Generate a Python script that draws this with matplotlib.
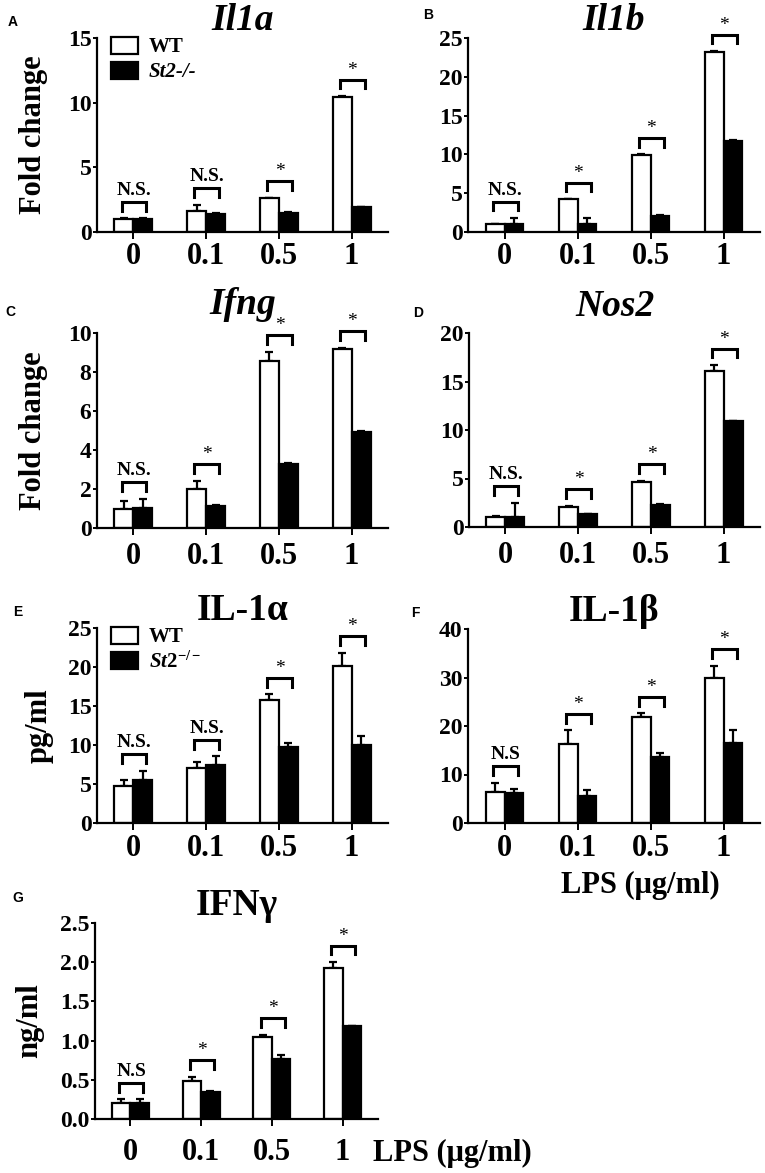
import numpy as np
import matplotlib
matplotlib.use("Agg")
import matplotlib.pyplot as plt
from matplotlib.patches import Patch

plt.rcParams['font.family'] = ['Liberation Serif', 'DejaVu Serif']
plt.rcParams['font.weight'] = 'bold'
plt.rcParams['mathtext.fontset'] = 'custom'
plt.rcParams['mathtext.it'] = 'Liberation Serif:italic:bold'
plt.rcParams['mathtext.rm'] = 'Liberation Serif:bold'

# LPS doses (ug/ml)
doses = ['0', '0.1', '0.5', '1']

# A  Il1a fold change
il1a_wt = [1.0, 1.65, 2.6, 10.4]
il1a_wt_err = [0.05, 0.45, 0.05, 0.1]
il1a_ko = [1.0, 1.4, 1.5, 1.9]
il1a_ko_err = [0.05, 0.05, 0.05, 0.05]
il1a_sig = ['N.S.', 'N.S.', '*', '*']

# B  Il1b fold change
il1b_wt = [1.0, 4.2, 9.9, 23.2]
il1b_wt_err = [0.05, 0.05, 0.1, 0.1]
il1b_ko = [1.05, 1.05, 2.1, 11.7]
il1b_ko_err = [0.75, 0.75, 0.1, 0.1]
il1b_sig = ['N.S.', '*', '*', '*']

# C  Ifng fold change
ifng_wt = [1.0, 2.0, 8.55, 9.2]
ifng_wt_err = [0.4, 0.43, 0.5, 0.03]
ifng_ko = [1.05, 1.15, 3.3, 4.9]
ifng_ko_err = [0.45, 0.03, 0.05, 0.05]
ifng_sig = ['N.S.', '*', '*', '*']

# D  Nos2 fold change
nos2_wt = [1.05, 2.1, 4.6, 16.1]
nos2_wt_err = [0.05, 0.1, 0.15, 0.6]
nos2_ko = [1.05, 1.3, 2.3, 10.9]
nos2_ko_err = [1.45, 0.05, 0.05, 0.05]
nos2_sig = ['N.S.', '*', '*', '*']

# E  IL-1a protein (pg/ml)
il1a_p_wt = [4.8, 7.0, 15.8, 20.1]
il1a_p_wt_err = [0.75, 0.8, 0.7, 1.7]
il1a_p_ko = [5.5, 7.5, 9.8, 10.0]
il1a_p_ko_err = [1.2, 1.05, 0.5, 1.2]
il1a_p_sig = ['N.S.', 'N.S.', '*', '*']

# F  IL-1b protein (pg/ml)
il1b_p_wt = [6.3, 16.3, 21.9, 29.8]
il1b_p_wt_err = [2.0, 2.8, 0.7, 2.6]
il1b_p_ko = [6.2, 5.5, 13.7, 16.5]
il1b_p_ko_err = [0.9, 1.4, 0.8, 2.6]
il1b_p_sig = ['N.S', '*', '*', '*']

# G  IFNg protein (ng/ml)
ifng_p_wt = [0.21, 0.49, 1.04, 1.93]
ifng_p_wt_err = [0.04, 0.05, 0.03, 0.07]
ifng_p_ko = [0.21, 0.35, 0.76, 1.18]
ifng_p_ko_err = [0.04, 0.005, 0.06, 0.01]
ifng_p_sig = ['N.S', '*', '*', '*']

W, H = 765, 1173
BW = 0.26


def add_axes(fig, left, top, right, bottom):
    # pixel box -> figure fraction
    return fig.add_axes([left / W, 1 - bottom / H, (right - left) / W, (bottom - top) / H])


def draw_panel(ax, wt, wt_err, ko, ko_err, sig, ymax, ystep, title, title_pad,
               ylabel=None, yfmt='%d', xpad=3, italic=False):
    x = np.arange(len(doses))
    ax.bar(x - BW / 2, wt, BW, color='white', edgecolor='black', linewidth=1.6, zorder=2)
    ax.bar(x + BW / 2, ko, BW, color='black', edgecolor='black', linewidth=1.6, zorder=2)
    ax.errorbar(x - BW / 2, wt, yerr=[np.zeros(len(wt)), wt_err], fmt='none',
                ecolor='black', elinewidth=1.6, capsize=3, capthick=1.6, zorder=1)
    ax.errorbar(x + BW / 2, ko, yerr=[np.zeros(len(ko)), ko_err], fmt='none',
                ecolor='black', elinewidth=1.6, capsize=3, capthick=1.6, zorder=1)

    # significance brackets
    for i in range(len(doses)):
        top = max(wt[i] + wt_err[i], ko[i] + ko_err[i])
        yb = top + 0.085 * ymax
        leg = 0.045 * ymax
        x1, x2 = i - 0.16, i + 0.18
        ax.plot([x1, x1, x2, x2], [yb - leg, yb, yb, yb - leg], color='black',
                linewidth=2.2, solid_joinstyle='miter', clip_on=False)
        if sig[i] == '*':
            ax.text(i + 0.01, yb + 0.005 * ymax, '*', ha='center', va='bottom',
                    fontsize=14, fontweight='normal')
        else:
            ax.text(i + 0.01, yb + 0.015 * ymax, sig[i], ha='center', va='bottom',
                    fontsize=14)

    ax.set_xlim(-0.5, len(doses) - 0.5)
    ax.set_ylim(0, ymax)
    ax.set_yticks(np.arange(0, ymax + ystep / 2, ystep))
    ax.set_yticklabels([yfmt % v for v in np.arange(0, ymax + ystep / 2, ystep)])
    ax.set_xticks(x)
    ax.set_xticklabels(doses)
    for s in ['top', 'right']:
        ax.spines[s].set_visible(False)
    for s in ['left', 'bottom']:
        ax.spines[s].set_linewidth(1.6)
    ax.tick_params(axis='y', direction='out', length=3, width=1.4, pad=1, labelsize=17)
    ax.tick_params(axis='x', direction='out', length=5, width=1.4, pad=xpad, labelsize=22)
    ax.set_title(title, fontsize=27, fontweight='bold', pad=title_pad,
                 fontstyle='italic' if italic else 'normal')
    if ylabel:
        ax.set_ylabel(ylabel, fontsize=22, fontweight='bold')


def add_legend(ax, ko_label):
    leg = ax.legend(handles=[Patch(facecolor='white', edgecolor='black', linewidth=1.6),
                             Patch(facecolor='black', edgecolor='black', linewidth=1.6)],
                    labels=['WT', ko_label], loc='upper left', bbox_to_anchor=(0.02, 1.05),
                    frameon=False, fontsize=15, handlelength=1.3, handleheight=0.9,
                    handletextpad=0.5, labelspacing=0.2, borderaxespad=0)
    leg.get_texts()[1].set_fontstyle('italic')
    return leg


fig = plt.figure(figsize=(W / 100, H / 100), dpi=100)

axA = add_axes(fig, 97, 38, 388, 232)
draw_panel(axA, il1a_wt, il1a_wt_err, il1a_ko, il1a_ko_err, il1a_sig, 15, 5,
           'Il1a', 2, 'Fold change', xpad=2, italic=True)
axA.yaxis.set_label_coords(-0.17, 0.5)
add_legend(axA, 'St2-/-')

axB = add_axes(fig, 468, 38, 760, 232)
draw_panel(axB, il1b_wt, il1b_wt_err, il1b_ko, il1b_ko_err, il1b_sig, 25, 5,
           'Il1b', 2, xpad=2, italic=True)

axC = add_axes(fig, 97, 333, 388, 528)
draw_panel(axC, ifng_wt, ifng_wt_err, ifng_ko, ifng_ko_err, ifng_sig, 10, 2,
           'Ifng', 14, 'Fold change', xpad=5, italic=True)
axC.yaxis.set_label_coords(-0.17, 0.5)

axD = add_axes(fig, 469, 333, 760, 527)
draw_panel(axD, nos2_wt, nos2_wt_err, nos2_ko, nos2_ko_err, nos2_sig, 20, 5,
           'Nos2', 12, xpad=5, italic=True)

axE = add_axes(fig, 97, 628, 388, 823)
draw_panel(axE, il1a_p_wt, il1a_p_wt_err, il1a_p_ko, il1a_p_ko_err, il1a_p_sig, 25, 5,
           'IL-1α', 2, 'pg/ml', xpad=3)
axE.yaxis.set_label_coords(-0.15, 0.5)
add_legend(axE, r'$\mathit{St2}^{\mathit{-/-}}$')

axF = add_axes(fig, 468, 629, 760, 823)
draw_panel(axF, il1b_p_wt, il1b_p_wt_err, il1b_p_ko, il1b_p_ko_err, il1b_p_sig, 40, 10,
           'IL-1β', 0, xpad=3)

axG = add_axes(fig, 95, 923, 378, 1119)
draw_panel(axG, ifng_p_wt, ifng_p_wt_err, ifng_p_ko, ifng_p_ko_err, ifng_p_sig, 2.5, 0.5,
           'IFNγ', 0, 'ng/ml', yfmt='%.1f', xpad=9)
axG.yaxis.set_label_coords(-0.18, 0.5)

# x axis titles
fig.text(640 / W, 1 - 885 / H, 'LPS (μg/ml)', ha='center', va='center',
         fontsize=22, fontweight='bold')
fig.text(373 / W, 1 - 1153 / H, 'LPS (μg/ml)', ha='left', va='center',
         fontsize=22, fontweight='bold')

# panel letters
letters = ['A', 'B', 'C', 'D', 'E', 'F', 'G']
letter_pos = [(13, 22), (428, 15), (10, 312), (418, 313), (18, 612), (415, 613), (18, 898)]
for lab, (px, py) in zip(letters, letter_pos):
    fig.text(px / W, 1 - py / H, lab, ha='center', va='center', fontsize=10,
             fontweight='bold', family=['Liberation Sans', 'DejaVu Sans'])

fig.savefig('out.png', dpi=100)
